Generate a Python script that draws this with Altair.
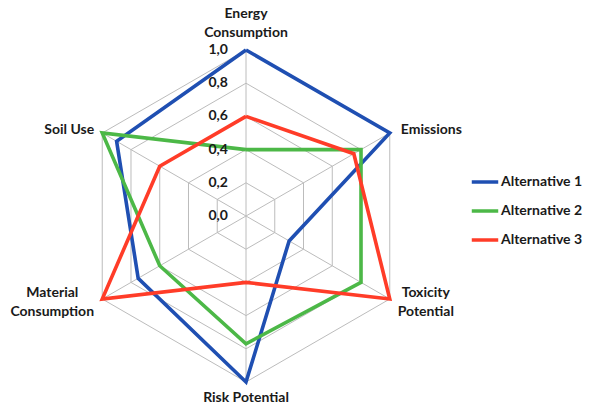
import altair as alt
import pandas as pd

categories = ["Energy Consumption", "Emissions", "Toxicity Potential",
              "Risk Potential", "Material Consumption", "Soil Use"]
angles_deg = [90, 30, -30, -90, 210, 150]
series_names = ["Alternative 1", "Alternative 2", "Alternative 3"]
alt1 = [1.0, 1.0, 0.3, 1.0, 0.75, 0.9]
alt2 = [0.4, 0.8, 0.8, 0.77, 0.6, 1.0]
alt3 = [0.6, 0.75, 1.0, 0.4, 1.0, 0.6]
grid_levels = [0.2, 0.4, 0.6, 0.8, 1.0]
tick_values = [0.0, 0.2, 0.4, 0.6, 0.8, 1.0]
tick_labels = ["0,0", "0,2", "0,4", "0,6", "0,8", "1,0"]
colors = ["#1f4fb2", "#4cb847", "#ff3c28"]

W, H = 603, 408
CX, CY, R = 246, 216, 166
xdom = [-CX / R, (W - CX) / R]
ydom = [-(H - CY) / R, CY / R]
FONT = "Lato"
FS = 14
TXT = "#1a1a1a"

rows = []
for name, vals in zip(series_names, [alt1, alt2, alt3]):
    for i in range(len(categories) + 1):
        k = i % len(categories)
        rows.append({"series": name, "cat": categories[k], "ord": i,
                     "angle": angles_deg[k], "value": vals[k]})
df = pd.DataFrame(rows)

grid_rows = []
for lv in grid_levels:
    for i in range(len(categories) + 1):
        k = i % len(categories)
        grid_rows.append({"level": lv, "ord": i, "angle": angles_deg[k], "value": lv})
gdf = pd.DataFrame(grid_rows)

spoke_df = pd.DataFrame({"cat": categories, "angle": angles_deg, "value": 1.0})
tick_df = pd.DataFrame({"value": tick_values, "label": tick_labels})

xs = alt.Scale(domain=xdom, nice=False, zero=False)
ys = alt.Scale(domain=ydom, nice=False, zero=False)

def polar(chart):
    return chart.transform_calculate(
        px="datum.value * cos(datum.angle * PI / 180)",
        py="datum.value * sin(datum.angle * PI / 180)",
    )

grid = polar(alt.Chart(gdf)).mark_line(color="#bcbcbc", strokeWidth=1).encode(
    x=alt.X("px:Q", scale=xs, axis=None),
    y=alt.Y("py:Q", scale=ys, axis=None),
    detail="level:N",
    order="ord:Q",
)

spokes = polar(alt.Chart(spoke_df)).transform_calculate(zx="0", zy="0").mark_rule(
    color="#bcbcbc", strokeWidth=1).encode(
    x=alt.X("zx:Q", scale=xs, axis=None),
    y=alt.Y("zy:Q", scale=ys, axis=None),
    x2="px:Q", y2="py:Q",
)

lines = polar(alt.Chart(df)).mark_line(strokeWidth=3.6, strokeJoin="miter").encode(
    x=alt.X("px:Q", scale=xs, axis=None),
    y=alt.Y("py:Q", scale=ys, axis=None),
    color=alt.Color("series:N",
                    scale=alt.Scale(domain=series_names, range=colors),
                    legend=alt.Legend(title=None, orient="none", legendX=470, legendY=167,
                                      symbolType="stroke", symbolStrokeWidth=3.5,
                                      symbolSize=700, labelFont=FONT, labelFontSize=FS,
                                      labelFontWeight="bold", labelColor=TXT,
                                      rowPadding=7, labelOffset=1, symbolOffset=0)),
    order="ord:Q",
)

ticks = alt.Chart(tick_df).transform_calculate(px="0", py="datum.value").mark_text(
    align="right", baseline="middle", dx=-18, font=FONT, fontSize=FS,
    fontWeight="bold", color=TXT).encode(
    x=alt.X("px:Q", scale=xs, axis=None),
    y=alt.Y("py:Q", scale=ys, axis=None),
    text="label:N",
)

label_style = {
    "Energy Consumption": dict(align="center", dx=0, dy=-36, text="Energy\nConsumption"),
    "Emissions": dict(align="left", dx=11, dy=-3, text="Emissions"),
    "Toxicity Potential": dict(align="center", dx=36, dy=-6, text="Toxicity\nPotential"),
    "Risk Potential": dict(align="center", dx=0, dy=16, text="Risk Potential"),
    "Material Consumption": dict(align="center", dx=-50, dy=-6, text="Material\nConsumption"),
    "Soil Use": dict(align="right", dx=-8, dy=-3, text="Soil Use"),
}
label_layers = []
for cat, ang in zip(categories, angles_deg):
    st = label_style[cat]
    one = pd.DataFrame({"cat": [cat], "angle": [ang], "value": [1.0], "txt": [st["text"]]})
    label_layers.append(
        polar(alt.Chart(one)).mark_text(
            align=st["align"], baseline="middle", dx=st["dx"], dy=st["dy"],
            font=FONT, fontSize=FS, fontWeight="bold", color=TXT,
            lineBreak="\n", lineHeight=19).encode(
            x=alt.X("px:Q", scale=xs, axis=None),
            y=alt.Y("py:Q", scale=ys, axis=None),
            text="txt:N",
        )
    )

chart = alt.layer(grid, spokes, lines, ticks, *label_layers).properties(
    width=W, height=H, padding=0, autosize=alt.AutoSizeParams(type="none"),
    background="white",
).configure_view(stroke=None)

chart.save("out.html", embed_options={"renderer": "svg", "actions": False})
